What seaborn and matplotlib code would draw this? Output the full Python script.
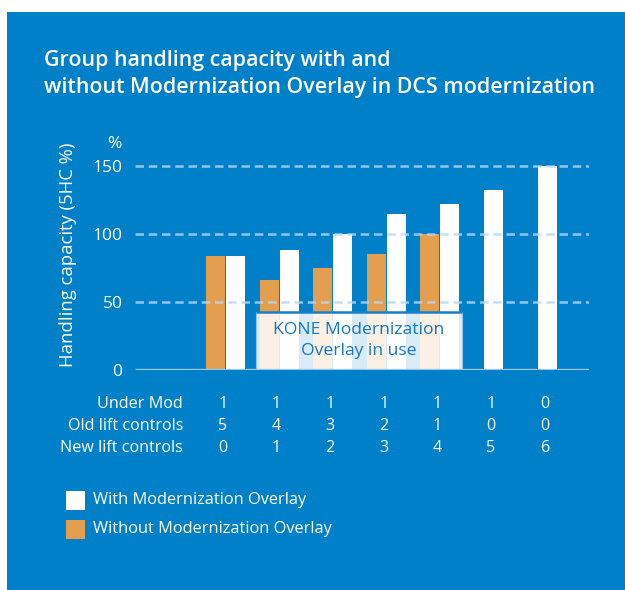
import numpy as np
import pandas as pd
import matplotlib
matplotlib.use("Agg")
import matplotlib.pyplot as plt
import seaborn as sns
from matplotlib.patches import Rectangle
from matplotlib.transforms import blended_transform_factory

# ---- data ----
groups = [0, 1, 2, 3, 4, 5, 6]
with_overlay = [84, 88, 100, 115, 122, 132, 150]
without_overlay = [84, 66, 75, 85, 100, None, None]
under_mod = [1, 1, 1, 1, 1, 1, 0]
old_lift = [5, 4, 3, 2, 1, 0, 0]
new_lift = [0, 1, 2, 3, 4, 5, 6]
row_labels = ["Under Mod", "Old lift controls", "New lift controls"]
yticks = [0, 50, 100, 150]
series_names = ["Without Modernization Overlay", "With Modernization Overlay"]

BLUE = "#0080C8"
ORANGE = "#E39E50"
WHITE = "#FFFFFF"

sns.set_theme(style="white")
plt.rcParams["font.family"] = ["Open Sans", "DejaVu Sans"]

W, H = 625, 590
fig = plt.figure(figsize=(W / 100, H / 100), dpi=100)
fig.patch.set_facecolor("white")
fig.patches.append(Rectangle((7 / W, 0), 1, (H - 12) / H, transform=fig.transFigure,
                             facecolor=BLUE, edgecolor="none", zorder=-5))

def px(x, y):
    return x / W, 1 - y / H

# axes: y=0 at 370px, 150 at 166px
unit = 204 / 150
ytop = 152
ax_top = 370 - ytop * unit
ax = fig.add_axes([135 / W, (H - 370) / H, 454 / W, (370 - ax_top) / H])
ax.set_facecolor("none")
ax.set_zorder(2)

off = 0.1866
rows = []
for g, w, wo in zip(groups, with_overlay, without_overlay):
    if wo is not None:
        rows.append({"pos": g - off, "value": wo, "series": series_names[0]})
        rows.append({"pos": g + off, "value": w, "series": series_names[1]})
    else:
        rows.append({"pos": g, "value": w, "series": series_names[1]})
df = pd.DataFrame(rows)

sns.barplot(data=df, x="pos", y="value", hue="series", native_scale=True, dodge=False,
            width=0.95, palette={series_names[0]: ORANGE, series_names[1]: WHITE},
            saturation=1, legend=False, ax=ax, linewidth=0, zorder=2)

ax.set_xlim(-1.688, 6.78)
ax.set_ylim(0, ytop)
ax.set_yticks(yticks)
ax.set_yticklabels([str(t) for t in yticks])
ax.set_xticks([])
ax.set_xlabel("")
ax.set_ylabel("")
for s in ax.spines.values():
    s.set_visible(False)
ax.tick_params(axis="y", length=0, pad=9, labelcolor="white", labelsize=12.5)

for t in yticks[1:]:
    ax.axhline(t, color="#b8d8f2", alpha=0.8, lw=1.8, linestyle=(0, (3.4, 1.9)), zorder=4)
ax.axhline(0, color="#9cc6ea", lw=2.4, zorder=6, solid_capstyle="butt")

# overlay box
bx0, bx1 = 0.569, 4.413
bh = 42.6
ax.add_patch(Rectangle((bx0, 0), bx1 - bx0, bh, facecolor="white", alpha=0.85,
                       edgecolor="#9cc6ea", lw=0.8, zorder=5))
ax.plot([bx0, bx1], [bh, bh], color="#1a80c6", lw=1.8, zorder=5.5, solid_capstyle="butt")
ax.text((bx0 + bx1) / 2, bh / 2 + 0.5, "KONE Modernization\nOverlay in use", ha="center",
        va="center", color="#1877c0", fontsize=12.6, linespacing=1.45, zorder=7)

# axis labels
fig.text(*px(114, 144), "%", color="white", fontsize=12.5, ha="center", va="center")
fig.text(*px(68, 255), "Handling capacity (5HC %)", color="white", fontsize=13.3,
         rotation=90, ha="center", va="center")

# title
fig.text(*px(44, 66), "Group handling capacity with and", color="white", fontsize=15.4,
         fontweight="semibold", ha="left", va="baseline")
fig.text(*px(44, 93), "without Modernization Overlay in DCS modernization", color="white",
         fontsize=15.4, fontweight="semibold", ha="left", va="baseline")

# table below chart
tr = blended_transform_factory(ax.transData, fig.transFigure)
row_y = [404, 426, 448]
for lab, vals, y in zip(row_labels, [under_mod, old_lift, new_lift], row_y):
    fig.text(*px(183, y), lab, color="white", fontsize=11.6, ha="right", va="center")
    for g, v in zip(groups, vals):
        ax.text(g - 0.05, 1 - y / H, str(v), transform=tr, color="white", fontsize=11.6,
                ha="center", va="center", clip_on=False)

# legend
leg_items = [(series_names[1], WHITE, 500), (series_names[0], ORANGE, 529)]
for name, col, y in leg_items:
    fig.patches.append(Rectangle(px(66, y + 9.5), 19 / W, 19 / H, transform=fig.transFigure,
                                 facecolor=col, edgecolor="none"))
    fig.text(*px(93, y), name, color="white", fontsize=11.8, ha="left", va="center")

fig.savefig("out.png", dpi=100)
